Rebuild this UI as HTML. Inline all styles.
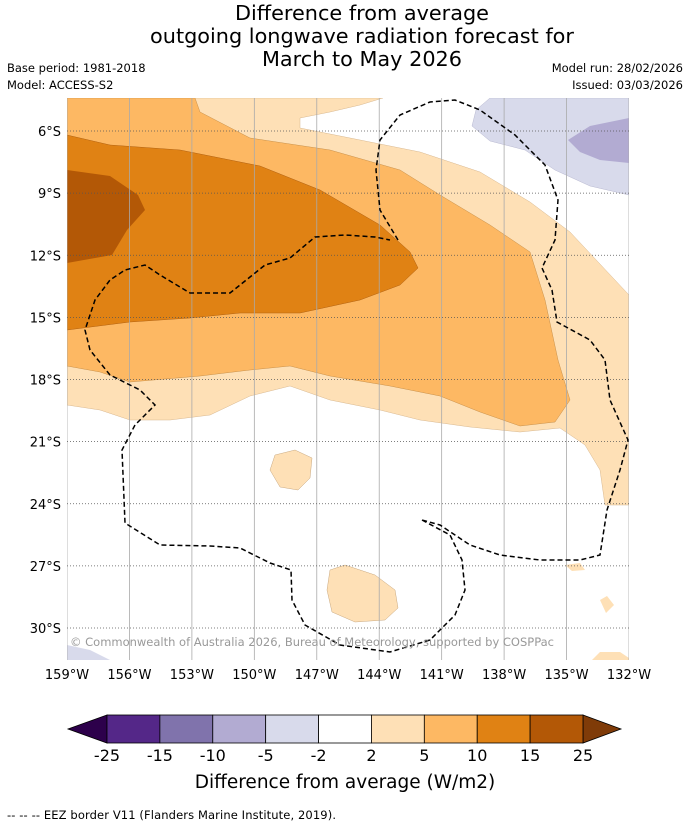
<!DOCTYPE html>
<html><head><meta charset="utf-8"><style>
body{margin:0;background:#fff;font-family:"Liberation Sans",sans-serif;}
svg text{font-family:"DejaVu Sans","Liberation Sans",sans-serif;}
</style></head><body>
<svg width="690" height="827" viewBox="0 0 690 827" xmlns="http://www.w3.org/2000/svg">
<text x="362" y="20" font-size="20.8" text-anchor="middle">Difference from average</text>
<text x="362" y="43" font-size="20.8" text-anchor="middle">outgoing longwave radiation forecast for</text>
<text x="362" y="66" font-size="20.8" text-anchor="middle">March to May 2026</text>
<text x="7" y="72" font-size="11.5">Base period: 1981-2018</text>
<text x="7" y="89" font-size="11.5">Model: ACCESS-S2</text>
<text x="683" y="72" font-size="11.5" text-anchor="end">Model run: 28/02/2026</text>
<text x="683" y="89" font-size="11.5" text-anchor="end">Issued: 03/03/2026</text>

<defs><clipPath id="mc"><rect x="67" y="98" width="562" height="562"/></clipPath></defs>
<g clip-path="url(#mc)">
<rect x="67" y="98" width="562" height="562" fill="#fff"/>
<path fill="#fee0b6" stroke="#d8b890" stroke-width="0.5" d="M67,98 L383,98 L360,105 L330,112 L300,118 L300,128 L360,140 L420,152 L480,172 L530,202 L570,232 L629,295 L629,505 L605,505 L600,470 L585,445 L560,428 L520,432 L470,427 L420,420 L380,410 L330,400 L290,386 L250,396 L210,415 L170,420 L130,420 L100,410 L67,405 Z"/>
<path fill="#fdb863" stroke="#c8904a" stroke-width="0.5" d="M67,98 L195,98 L200,112 L250,138 L330,150 L400,170 L440,195 L490,225 L530,252 L545,300 L558,360 L570,400 L555,422 L520,426 L480,412 L440,396 L390,386 L330,376 L290,366 L250,370 L200,376 L130,382 L100,372 L67,366 Z"/>
<path fill="#e08214" stroke="#b06010" stroke-width="0.5" d="M67,135 L110,145 L180,150 L260,166 L320,190 L380,225 L410,252 L418,268 L400,285 L360,300 L300,313 L240,313 L190,318 L130,322 L67,330 Z"/>
<path fill="#b35806" d="M67,170 L110,176 L138,195 L145,210 L127,230 L112,255 L67,263 Z"/>
<path fill="#d8daeb" stroke="#b8b8d0" stroke-width="0.5" d="M490,98 L629,98 L629,195 L590,186 L555,170 L525,150 L490,141 L472,126 L476,110 Z"/>
<path fill="#b2abd2" d="M568,140 L590,126 L629,118 L629,163 L600,160 L580,152 Z"/>
<path fill="#fee0b6" stroke="#c8a880" stroke-width="0.5" d="M275,455 L295,450 L312,458 L310,478 L298,490 L280,487 L270,470 Z"/>
<path fill="#fee0b6" stroke="#c8a880" stroke-width="0.5" d="M330,570 L345,565 L375,575 L395,590 L398,608 L385,620 L355,622 L332,612 L327,590 Z"/>
<path fill="#fee0b6" d="M592,660 L600,652 L620,652 L629,658 L629,660 Z M600,600 L607,596 L614,605 L606,613 Z M565,565 L580,563 L585,570 L572,571 Z"/>
<path fill="#d8daeb" d="M67,645 L90,650 L110,660 L67,660 Z"/>
<g id="grid"></g>
<path fill="none" stroke="#000" stroke-width="1.5" stroke-dasharray="5,3" d="M398,240 L380,210 L376,170 L380,140 L400,115 L430,102 L455,100 L480,110 L515,135 L545,165 L558,200 L555,240 L542,268 L552,290 L557,322 L590,340 L605,360 L610,400 L628,440 L620,470 L607,510 L600,555 L580,560 L540,560 L500,555 L470,545 L440,525 L422,520 M422,520 L450,535 L462,560 L465,590 L455,615 L430,640 L390,652 L340,645 L305,625 L292,600 L291,570 L270,563 L240,548 L210,546 L160,545 L125,523 L122,450 L135,425 L155,405 L140,390 L110,375 L90,350 L85,330 L95,300 L110,280 L125,270 L145,265 L160,275 L190,293 L230,293 L265,265 L290,258 L315,237 L345,235 L375,237 L390,240"/>
<text x="70" y="646" font-size="11.5" fill="#999" textLength="484">© Commonwealth of Australia 2026, Bureau of Meteorology, supported by COSPPac</text>
</g>
<g id="axes"></g>
<g id="cbar"></g>
<text x="345" y="788" font-size="18.5" text-anchor="middle">Difference from average (W/m2)</text>
<text x="7" y="819" font-size="11.5" textLength="329">--  --  -- EEZ border V11 (Flanders Marine Institute, 2019).</text>
</svg>
<script>
const lonTicks=[159,156,153,150,147,144,141,138,135,132];
const latTicks=[6,9,12,15,18,21,24,27,30];
const levels=["-25","-15","-10","-5","-2","2","5","10","15","25"];
const binColors=["#542788","#8073ac","#b2abd2","#d8daeb","#ffffff","#fee0b6","#fdb863","#e08214","#b35806"];
const NS="http://www.w3.org/2000/svg";
const lx=v=>67+(159-v)*562/27;
const ly=v=>131+(v-6)*497/24;
function mk(t,a,p){const e=document.createElementNS(NS,t);for(const k in a)e.setAttribute(k,a[k]);p.appendChild(e);return e;}
const grid=document.getElementById('grid'),axes=document.getElementById('axes'),cb=document.getElementById('cbar');
lonTicks.forEach(v=>{
 const l=mk('line',{x1:lx(v),x2:lx(v),y1:98,y2:660,stroke:'#aaa','stroke-width':0.8},grid);
 
 
 const t=mk('text',{x:lx(v),y:679,'font-size':13,'text-anchor':'middle'},axes);t.textContent=v+'°W';
 
 
});
latTicks.forEach(v=>{
 const l=mk('line',{x1:67,x2:629,y1:ly(v),y2:ly(v),stroke:'#555','stroke-width':0.8,'stroke-dasharray':'1,2'},grid);
 
 
 const t=mk('text',{x:61,y:ly(v)+5,'font-size':13,'text-anchor':'end'},axes);t.textContent=v+'°S';
 
 
});
const x0=107,w=(583-107)/9,y0=715,h=28;
const lt=mk('path',{d:`M${x0},${y0} L68,${y0+h/2} L${x0},${y0+h} Z`,fill:'#2d004b',stroke:'#000','stroke-width':0.8},cb);


const rt=mk('path',{d:`M583,${y0} L621,${y0+h/2} L583,${y0+h} Z`,fill:'#7f3b08',stroke:'#000','stroke-width':0.8},cb);


binColors.forEach((c,i)=>{
 const r=mk('rect',{x:x0+i*w,y:y0,width:w,height:h,fill:c,stroke:'#000','stroke-width':0.8},cb);
 
 
});
levels.forEach((s,i)=>{
 const t=mk('text',{x:x0+i*w,y:761,'font-size':16,'text-anchor':'middle'},cb);t.textContent=s;
 
 
});
</script>
</body></html>
